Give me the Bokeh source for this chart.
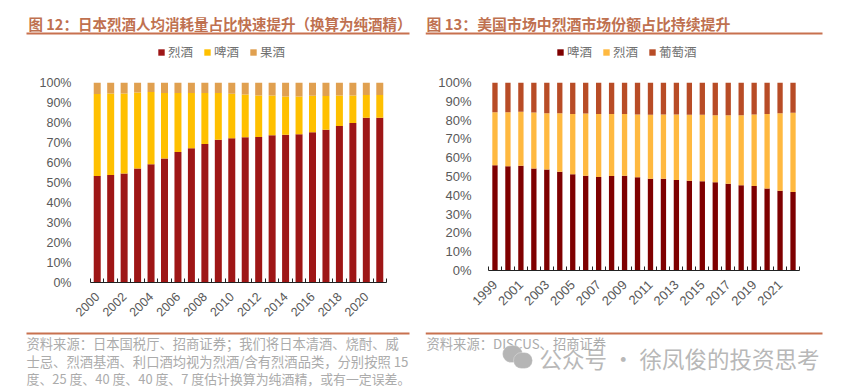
from math import pi
from bokeh.embed import file_html
from bokeh.resources import INLINE
from bokeh.layouts import row, column
from bokeh.models import (BoxAnnotation, ColumnDataSource, FixedTicker, Label, Legend, LegendItem,
                          PrintfTickFormatter, Range1d)
from bokeh.plotting import figure

# ---- data: left chart (% of alcohol consumption)
years_l = list(range(2000, 2022))
spirits_l = [53.2, 53.7, 54.5, 57.0, 59.1, 62.0, 65.3, 67.1, 69.3, 71.4, 72.1, 72.6, 72.8, 73.6, 73.9, 74.1, 75.1, 76.4, 78.2, 79.7, 82.4, 82.4]
beer_l = [41.0, 40.8, 40.0, 38.0, 36.1, 32.7, 29.4, 27.6, 25.4, 23.3, 22.3, 21.4, 20.7, 19.9, 19.1, 18.9, 18.3, 16.8, 15.3, 13.8, 11.3, 11.3]
fruit_l = [5.8, 5.5, 5.5, 5.0, 4.8, 5.3, 5.3, 5.3, 5.3, 5.3, 5.6, 6.0, 6.5, 6.5, 7.0, 7.0, 6.6, 6.8, 6.5, 6.5, 6.3, 6.3]
labels_l = ["烈酒", "啤酒", "果酒"]
colors_l = ["#9E1616", "#FFC000", "#E0A050"]
ticks_l = list(range(2000, 2022, 2))

# ---- data: right chart
years_r = list(range(1999, 2023))
beer_r = [56.0, 55.5, 55.7, 54.3, 53.7, 52.5, 51.2, 50.4, 49.8, 50.2, 50.4, 49.6, 48.8, 48.8, 48.2, 47.7, 47.5, 47.0, 46.1, 45.4, 45.0, 43.6, 42.4, 41.8]
spirits_r = [28.2, 28.7, 28.7, 29.7, 30.0, 31.2, 32.1, 33.1, 33.4, 33.1, 32.9, 33.4, 34.0, 34.2, 34.8, 35.1, 35.3, 35.6, 36.5, 37.2, 38.0, 39.6, 41.3, 42.1]
wine_r = [15.8, 15.8, 15.6, 16.0, 16.3, 16.3, 16.7, 16.5, 16.8, 16.7, 16.7, 17.0, 17.2, 17.0, 17.0, 17.2, 17.2, 17.4, 17.4, 17.4, 17.0, 16.8, 16.3, 16.1]
labels_r = ["啤酒", "烈酒", "葡萄酒"]
colors_r = ["#7F0000", "#FFB940", "#B84C26"]
ticks_r = list(range(1999, 2022, 2))
pct_ticks = list(range(0, 101, 10))

title_l = "图 12：日本烈酒人均消耗量占比快速提升（换算为纯酒精）"
title_r = "图 13：美国市场中烈酒市场份额占比持续提升"
source_l = ["资料来源：日本国税厅、招商证券；我们将日本清酒、烧酎、威",
            "士忌、烈酒基酒、利口酒均视为烈酒/含有烈酒品类，分别按照 15",
            "度、25 度、40 度、40 度、7 度估计换算为纯酒精，或有一定误差。"]
source_sizes = [13.3, 13.3, 12.9]
source_r = ["资料来源：DISCUS、招商证券"]
watermark = "公众号 · 徐凤俊的投资思考"

CJK = "Noto Sans CJK SC"
RULE = "#C8714F"
TITLE = "#BF7150"
SRC = "#ABABAB"
W = 425
H_HEAD, H_CHART, H_FOOT = 62, 266, 62
Y_FOOT = H_HEAD + H_CHART


def hy(page_y):
    return H_HEAD - page_y


def fy(page_y):
    return Y_FOOT + H_FOOT - page_y


def strip(height):
    p = figure(width=W, height=height, output_backend="svg", toolbar_location=None,
               x_range=Range1d(0, 1), y_range=Range1d(0, 1), x_axis_location=None, y_axis_location=None,
               min_border=0, frame_align=False)
    p.grid.visible = False
    p.outline_line_color = None
    return p


def label(p, text, x, y_from_bottom, size, color, font=CJK, style="normal"):
    p.add_layout(Label(x=x, y=y_from_bottom, x_units="screen", y_units="screen", text=text,
                       text_font=font, text_font_size=f"{size}px", text_color=color,
                       text_font_style=style, text_baseline="middle", text_align="left"))


def box(p, x0, x1, y0, y1, color=RULE, radius=0, line=None):
    p.add_layout(BoxAnnotation(left=x0, right=x1, bottom=y0, top=y1,
                               left_units="screen", right_units="screen", bottom_units="screen",
                               top_units="screen", fill_color=color, fill_alpha=1, line_color=line,
                               border_radius=radius))


def chart(years, series, ticks, bar_w, border, colors, standoff, font_size):
    p = figure(width=W, height=H_CHART,
               output_backend="svg", toolbar_location=None, frame_align=False,
               x_range=Range1d(years[0] - .5, years[-1] + .5), y_range=Range1d(0, 100),
               min_border_left=border[0], min_border_right=border[1],
               min_border_top=border[2], min_border_bottom=border[3])
    p.grid.visible = False
    p.outline_line_color = None
    data = {"x": years}
    keys = []
    for i, s in enumerate(series):
        keys.append(f"s{i}")
        data[f"s{i}"] = s
    src = ColumnDataSource(data)
    p.vbar_stack(keys, x="x", width=bar_w, color=colors, line_color=None, source=src)

    xa = p.xaxis[0]
    xa.ticker = FixedTicker(ticks=ticks, minor_ticks=[years[0] - .5 + i for i in range(len(years) + 1)])
    xa.major_label_overrides = {t: str(t) for t in ticks}
    xa.major_tick_line_color = None
    xa.minor_tick_in = 4
    xa.minor_tick_out = 0
    xa.minor_tick_line_color = "#222222"
    xa.axis_line_color = "#222222"
    xa.major_label_orientation = pi / 4
    xa.major_label_standoff = 6
    xa.major_label_text_font = "Liberation Sans"
    xa.major_label_text_font_size = f"{font_size}px"
    xa.major_label_text_color = "#595959"

    ya = p.yaxis[0]
    ya.ticker = FixedTicker(ticks=pct_ticks)
    ya.formatter = PrintfTickFormatter(format="%d%%")
    ya.axis_line_color = None
    ya.major_tick_line_color = None
    ya.minor_tick_line_color = None
    ya.major_label_standoff = standoff
    ya.major_label_text_font = "Liberation Sans"
    ya.major_label_text_font_size = f"{font_size}px"
    ya.major_label_text_color = "#595959"
    return p


def add_legend(p, names, colors, x, page_y):
    # keys only: a single off-range rectangle per colour so the legend has something to draw from
    src = ColumnDataSource({"x": [5], "t": [6], "b": [5]})
    rs = [p.vbar(x="x", top="t", bottom="b", width=1, color=c, line_color=None, source=src) for c in colors]
    lg = Legend(items=[LegendItem(label=n, renderers=[r]) for n, r in zip(names, rs)],
                orientation="horizontal", location=(x, hy(page_y) - 7), background_fill_alpha=0,
                border_line_alpha=0, glyph_width=8, glyph_height=8, label_standoff=3, spacing=10,
                padding=0, margin=0, label_text_font=CJK, label_text_font_size="12.5px",
                label_text_color="#707070", label_height=14)
    p.add_layout(lg, "center")


left = chart(years_l, [spirits_l, beer_l, fruit_l], ticks_l, 0.52, (90, 39, 20, 46), colors_l, 13, 12.5)
right = chart(years_r, [beer_r, spirits_r, wine_r], ticks_r, 0.41, (63, 51, 20, 58), colors_r, 11, 13)

head_l, head_r = strip(H_HEAD), strip(H_HEAD)
foot_l, foot_r = strip(H_FOOT), strip(H_FOOT)

label(head_l, title_l, 28, hy(23), 14.5, TITLE, style="bold")
label(head_r, title_r, 1, hy(23), 14.9, TITLE, style="bold")
box(head_l, 26, 409, hy(34), hy(32))
box(head_r, 0, 397, hy(34), hy(32))
add_legend(head_l, labels_l, colors_l, 157, 54)
add_legend(head_r, labels_r, colors_r, 131, 54)
box(foot_l, 26, 409, fy(334), fy(332))
box(foot_r, 0, 397, fy(334), fy(332))
for i, line in enumerate(source_l):
    label(foot_l, line, 26, fy(343 + i * 17.5), source_sizes[i], SRC)
label(foot_r, source_r[0], 1, fy(343), 13.3, SRC)
box(foot_r, 77, 97, fy(362), fy(345), "#B5B5B5", 9, "white")
box(foot_r, 88, 107, fy(368), fy(352), "#B5B5B5", 9, "white")
label(foot_r, watermark, 114, fy(357), 22.5, "#B8B8B8")

page = row(column(head_l, left, foot_l, spacing=0), column(head_r, right, foot_r, spacing=0), spacing=0)
open("out.html", "w").write(file_html(page, INLINE))
